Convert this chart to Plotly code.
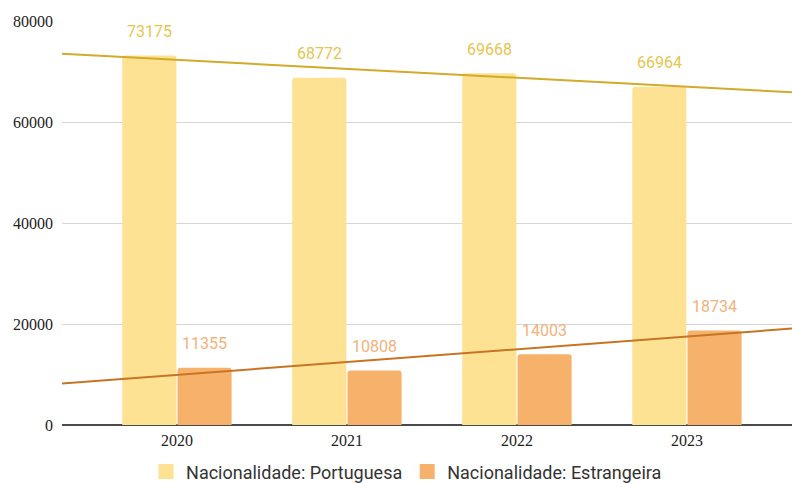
import numpy as np
import plotly.graph_objects as go

years = ["2020", "2021", "2022", "2023"]
portuguesa = [73175, 68772, 69668, 66964]
estrangeira = [11355, 10808, 14003, 18734]

series_names = ["Nacionalidade: Portuguesa", "Nacionalidade: Estrangeira"]
bar_colors = ["#fde293", "#f6b26b"]
label_colors = ["#e8c450", "#f3b27c"]
trend_colors = ["#d2ab2a", "#c77424"]

y_ticks = [0, 20000, 40000, 60000, 80000]
x_range = [-0.676, 3.618]
serif = "Liberation Serif"

fig = go.Figure()

for name, vals, col in zip(series_names, [portuguesa, estrangeira], bar_colors):
    fig.add_trace(go.Bar(
        x=list(range(len(years))), y=vals, name=name, showlegend=False,
        marker=dict(color=col, line=dict(width=0)),
    ))

# linear trend lines fitted to each series, spanning the visible axis
xi = np.arange(len(years))
xt = np.array(x_range)
for vals, col in zip([portuguesa, estrangeira], trend_colors):
    m, c = np.polyfit(xi, vals, 1)
    fig.add_trace(go.Scatter(
        x=xt, y=m * xt + c, mode="lines",
        line=dict(color=col, width=2), showlegend=False, hoverinfo="skip",
    ))

# legend entries with square swatches
for name, col in zip(series_names, bar_colors):
    fig.add_trace(go.Scatter(
        x=[None], y=[None], mode="markers", name=name,
        marker=dict(symbol="square", size=15, color=col),
    ))

# value labels above each bar
for k, (vals, col) in enumerate(zip([portuguesa, estrangeira], label_colors)):
    shift = -27.5 if k == 0 else 27.5
    for i, v in enumerate(vals):
        fig.add_annotation(
            x=i, y=v, text=str(v), showarrow=False,
            xshift=shift, yshift=12.5, yanchor="bottom",
            font=dict(family="Roboto", size=16, color=col),
        )

fig.update_layout(
    width=792, height=483,
    margin=dict(l=62, r=0, t=21, b=58, autoexpand=False),
    paper_bgcolor="white", plot_bgcolor="white",
    barmode="group", bargap=0.35, bargroupgap=0.02,
    barcornerradius=3,
    xaxis=dict(
        range=x_range, tickmode="array", tickvals=list(range(len(years))),
        ticktext=years, showgrid=False, zeroline=False, showline=False,
        ticks="", ticklabelstandoff=4,
        tickfont=dict(family=serif, size=16, color="#222222"),
    ),
    yaxis=dict(
        range=[0, 80000], tickmode="array", tickvals=y_ticks,
        ticktext=[str(t) for t in y_ticks],
        showgrid=True, gridcolor="#d6d6d6", gridwidth=1,
        zeroline=True, zerolinecolor="#4a4a4a", zerolinewidth=2,
        showline=False, ticks="", ticklabelstandoff=8,
        tickfont=dict(family=serif, size=16, color="#222222"),
    ),
    legend=dict(
        orientation="h", x=0.472, xanchor="center", y=-0.07, yanchor="top",
        font=dict(family="Roboto", size=18, color="#333333"),
        itemwidth=30, traceorder="normal",
    ),
    font=dict(family="Roboto"),
)

fig.write_html("out.html")
